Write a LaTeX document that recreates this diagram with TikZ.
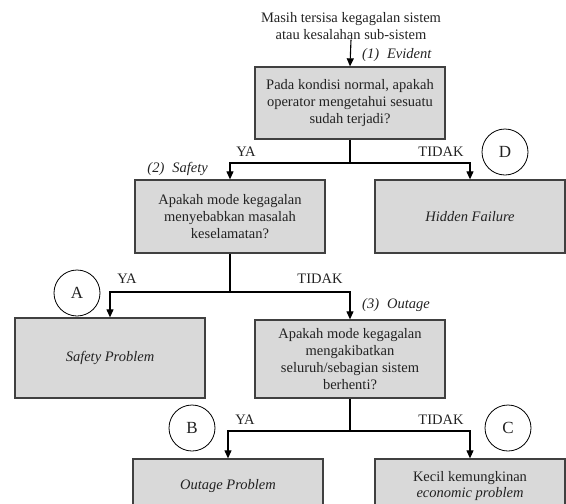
\documentclass[tikz,border=0pt]{standalone}
\usepackage{fontspec}
\setmainfont{Liberation Serif}
\usetikzlibrary{arrows.meta}
\definecolor{boxfill}{HTML}{D9D9D9}
\definecolor{boxline}{HTML}{404040}
\definecolor{txt}{HTML}{222222}
\tikzset{
  every node/.style={font=\fontsize{14.5}{16.8}\selectfont, text=txt},
  qbox/.style={draw=boxline, line width=1.3pt, fill=boxfill, rectangle, minimum width=190pt, align=center, inner sep=2pt},
  conn/.style={draw=black, line width=1.1pt},
  arr/.style={conn, -{Triangle[length=8pt,width=7pt]}},
  lab/.style={inner sep=0pt},
  circ/.style={draw=black, line width=0.8pt, circle, minimum size=46pt, inner sep=0pt, fill=white, font=\fontsize{17}{20}\selectfont}
}
\begin{document}
\begin{tikzpicture}[x=1pt,y=-1pt]
\useasboundingbox (0,0) rectangle (566,504);
\clip (0,0) rectangle (566,504);
% nodes
\node[lab, align=center] (top) at (351,26) {Masih tersisa kegagalan sistem\\atau kesalahan sub-sistem};
\node[qbox, minimum height=72pt] (b1) at (350,103) {Pada kondisi normal, apakah\\operator mengetahui sesuatu\\sudah terjadi?};
\node[qbox, minimum height=73pt] (b2) at (230,216.5) {Apakah mode kegagalan\\menyebabkan masalah\\keselamatan?};
\node[qbox, minimum height=73pt] (hid) at (470,216.5) {\itshape Hidden Failure};
\node[qbox, minimum height=80pt] (saf) at (110,358) {\itshape Safety Problem};
\node[qbox, minimum height=78pt] (b3) at (350,359) {Apakah mode kegagalan\\mengakibatkan\\seluruh/sebagian sistem\\berhenti?};
\node[qbox, minimum height=54pt] (out) at (228,486) {\itshape Outage Problem};
\node[qbox, minimum height=54pt] (eco) at (470,486) {Kecil kemungkinan\\\itshape economic problem};
% junctions
\coordinate (j1) at (350,163);
\coordinate (j2) at (230,292);
\coordinate (j3) at (350,431);
% connectors
\draw[arr] (top.south) -- (b1.north);
\draw[conn] (b1.south) -- (j1);
\draw[arr] (j1) -| (b2.north);
\draw[arr] (j1) -| (hid.north);
\draw[conn] (b2.south) -- (j2);
\draw[arr] (j2) -| (saf.north);
\draw[arr] (j2) -| (b3.north);
\draw[conn] (b3.south) -- (j3);
\draw[arr] (j3) -| (out.north);
\draw[arr] (j3) -| (eco.north);
% labels
\node[lab, anchor=west] (l1) at (362,55) {\itshape (1)\hspace{8pt}Evident};
\node[lab, anchor=east] (l2) at (208,169) {\itshape (2)\hspace{8pt}Safety};
\node[lab, anchor=west] (l3) at (362,305) {\itshape (3)\hspace{8pt}Outage};
\node[lab] (y1) at (246,152) {YA};
\node[lab] (t1) at (441,152) {TIDAK};
\node[lab] (y2) at (127,279) {YA};
\node[lab] (t2) at (320,279) {TIDAK};
\node[lab] (y3) at (245,420) {YA};
\node[lab] (t3) at (441,420) {TIDAK};
% circles
\node[circ] (cD) at (505,152) {D};
\node[circ] (cA) at (77,293) {A};
\node[circ] (cB) at (192,428) {B};
\node[circ] (cC) at (508,428) {C};
\end{tikzpicture}
\end{document}
